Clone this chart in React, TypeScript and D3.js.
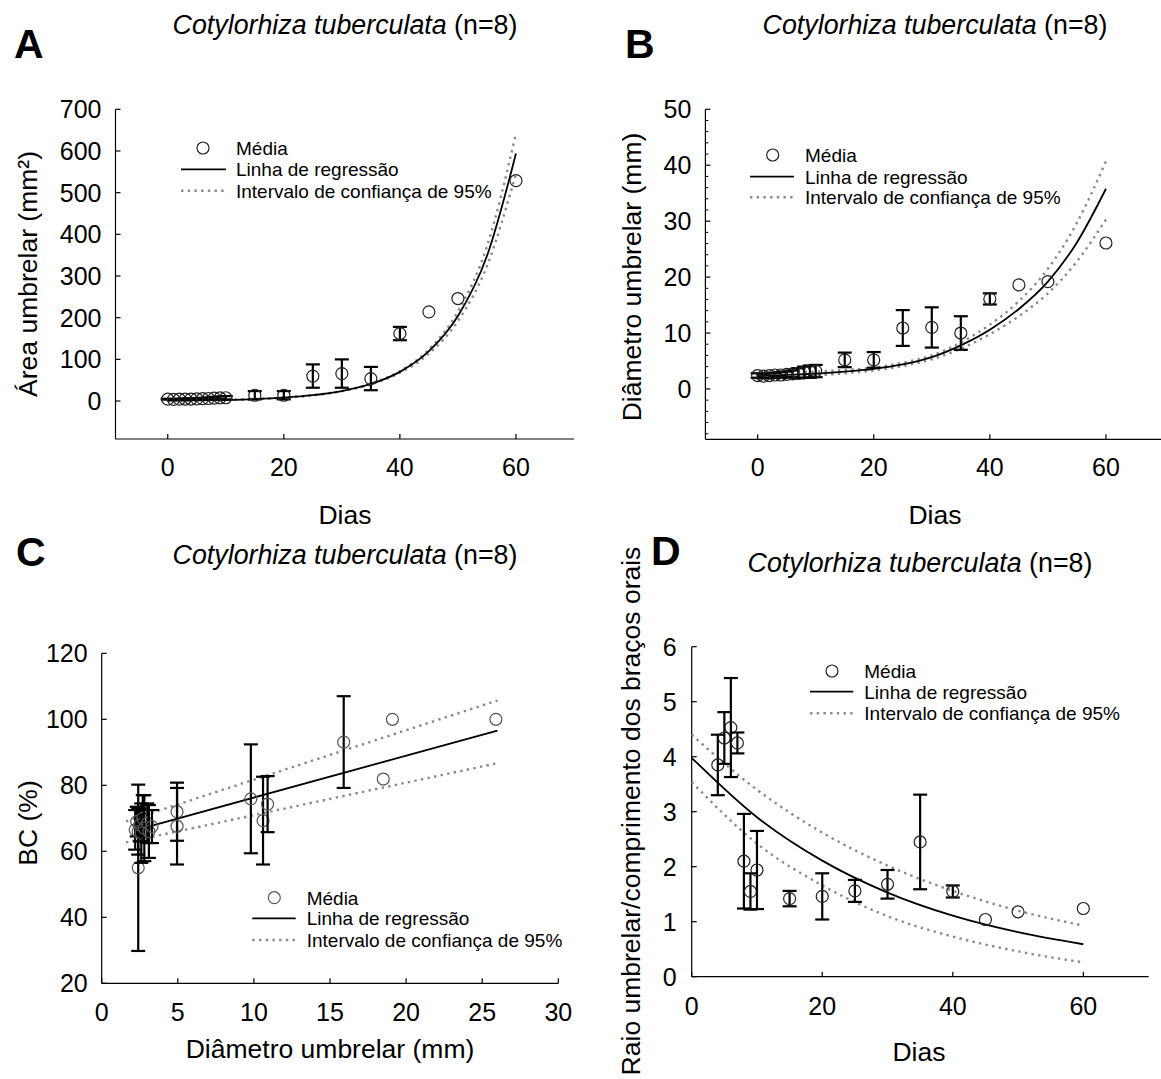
import React from "react";
import * as d3 from "d3";

const FONT = "'Liberation Sans', Arial, sans-serif";

// ---------- Panel A: área umbrelar vs dias ----------
const daysAB = [0, 1, 2, 3, 4, 5, 6, 7, 8, 9, 10, 15, 20, 25, 30, 35, 40, 45, 50, 60];
const areaMean = [4.5, 4.2, 4.5, 4.9, 4.9, 5.3, 5.7, 6.2, 7.1, 7.5, 8.0, 14, 14, 60, 66, 54, 162, 214, 246, 529];
const areaErr = [1, 1, 1, 1.5, 1.5, 2, 2, 2.5, 3, 3.5, 4, 10, 10, 28, 34, 28, 16, 0, 0, 0];
const regXA = [0, 5, 10, 15, 20, 25, 30, 35, 40, 45, 50, 55, 60];
const regA = [0.98, 1.66, 2.84, 4.85, 8.27, 14.1, 24.1, 41.1, 70.1, 119.6, 204, 348, 594];
const upA = [0.9, 1.56, 2.69, 4.65, 8.04, 13.9, 24.0, 41.6, 71.9, 124, 215, 371, 642];
const loA = [1.05, 1.77, 2.98, 5.02, 8.45, 14.2, 23.9, 40.3, 67.8, 114, 192, 324, 545];

// ---------- Panel B: diâmetro umbrelar vs dias ----------
const diamMean = [2.4, 2.3, 2.4, 2.5, 2.5, 2.6, 2.7, 2.8, 3.0, 3.1, 3.2, 5.2, 5.2, 10.9, 11.0, 10.0, 16.1, 18.6, 19.2, 26.1];
const diamErr = [0.4, 0.4, 0.4, 0.4, 0.5, 0.5, 0.6, 0.9, 1.0, 1.1, 1.1, 1.3, 1.4, 3.2, 3.6, 3.0, 1.0, 0, 0, 0];
const regXB = [0, 5, 10, 15, 20, 25, 30, 35, 40, 45, 50, 55, 60];
const regB = [2.3, 2.5, 2.75, 3.1, 3.6, 4.4, 5.7, 7.8, 10.6, 14.3, 19.2, 26.2, 35.8];
const upB = [2.8, 2.9, 3.1, 3.4, 3.8, 4.7, 6.0, 8.3, 11.5, 15.7, 21.5, 29.7, 40.7];
const loB = [1.6, 2.0, 2.4, 2.8, 3.3, 4.1, 5.3, 7.2, 9.8, 13.0, 17.1, 22.8, 30.3];

// ---------- Panel C: BC vs diâmetro ----------
const bcDiam = [2.4, 2.2, 2.3, 2.4, 2.5, 2.6, 2.7, 2.8, 3.0, 3.1, 3.3, 4.95, 4.95, 10.6, 10.9, 9.8, 15.9, 18.5, 19.1, 25.9];
const bcMean = [55.0, 66.5, 69.0, 66.0, 68.0, 65.5, 70.0, 67.0, 68.5, 66.0, 67.5, 72.0, 67.6, 69.3, 74.3, 75.9, 93.1, 81.9, 100, 100];
const bcErr = [25.2, 6, 4.5, 7, 5, 9, 7, 10, 6, 8, 5, 8.8, 11.6, 13.3, 8.5, 16.5, 13.9, 0, 0, 0];
const regXC = [2.3, 26];
const regC = [66.5, 96.6];
const ciXC = [1.6, 26];
const upC = [69.1, 105.7];
const loC = [62.7, 86.7];

// ---------- Panel D: raio/comprimento vs dias ----------
const daysD = [4, 5, 6, 7, 8, 9, 10, 15, 20, 25, 30, 35, 40, 45, 50, 60];
const ratioMean = [3.85, 4.34, 4.53, 4.25, 2.10, 1.55, 1.94, 1.42, 1.46, 1.56, 1.68, 2.45, 1.55, 1.04, 1.18, 1.24];
const ratioErr = [0.55, 0.47, 0.9, 0.19, 0.86, 0.33, 0.71, 0.14, 0.42, 0.2, 0.26, 0.86, 0.11, 0, 0, 0];
const regXD = [0, 10, 20, 30, 40, 50, 60];
const regD = [3.98, 2.9, 2.11, 1.53, 1.11, 0.81, 0.59];
const upD = [4.4, 3.4, 2.62, 2.02, 1.56, 1.2, 0.93];
const loD = [3.54, 2.42, 1.66, 1.1, 0.73, 0.46, 0.26];

const ticksX60 = [0, 20, 40, 60];
const ticksA = [0, 100, 200, 300, 400, 500, 600, 700];
const ticksB = [0, 10, 20, 30, 40, 50];
const minorB = [-8, -6, -4, -2, 2, 4, 6, 8, 12, 14, 16, 18, 22, 24, 26, 28, 32, 34, 36, 38, 42, 44, 46, 48];
const ticksCx = [0, 5, 10, 15, 20, 25, 30];
const ticksCy = [20, 40, 60, 80, 100, 120];
const ticksDy = [0, 1, 2, 3, 4, 5, 6];

const legendLabels = ["Média", "Linha de regressão", "Intervalo de confiança de 95%"];
const speciesName = "Cotylorhiza tuberculata";
const sampleLabel = " (n=8)";

type Cfg = {
  xDomain: [number, number];
  xRange: [number, number];
  yDomain: [number, number];
  yRange: [number, number];
  xTicks: number[];
  yTicks: number[];
  yMinor?: number[];
  px: number[];
  py: number[];
  pe: number[];
  regX: number[];
  reg: number[];
  ciX: number[];
  up: number[];
  lo: number[];
  circleColor: string;
  legend: { cx: number; l1: number; l2: number; tx: number; rows: number[] };
  title: { x: number; y: number };
  letter: { t: string; x: number; y: number };
  xLabel: { t: string; x: number; y: number };
  yLabel: { t: React.ReactNode; x: number; y: number };
  xTickY: number;
  yTickGap: number;
  clipRight?: number;
};

function Panel({ c }: { c: Cfg }) {
  const x = d3.scaleLinear().domain(c.xDomain).range(c.xRange);
  const y = d3.scaleLinear().domain(c.yDomain).range(c.yRange);
  const line = d3
    .line<[number, number]>()
    .x((d) => x(d[0]))
    .y((d) => y(d[1]))
    .curve(d3.curveMonotoneX);
  const regPts = c.regX.map((v, i) => [v, c.reg[i]] as [number, number]);
  const upPts = c.ciX.map((v, i) => [v, c.up[i]] as [number, number]);
  const loPts = c.ciX.map((v, i) => [v, c.lo[i]] as [number, number]);
  const x0 = c.xRange[0];
  const yb = c.yRange[0];
  const yt = c.yRange[1];
  const xr = c.clipRight ?? c.xRange[1];
  const dotted = { stroke: "#8a8a8a", strokeWidth: 2.4, strokeDasharray: "2.4 4.3", fill: "none" };
  const cap = 7;
  return (
    <g>
      {/* axes */}
      <line x1={x0} y1={yt} x2={x0} y2={yb} stroke="#000" strokeWidth={1.2} />
      <line x1={x0} y1={yb} x2={xr} y2={yb} stroke="#000" strokeWidth={1.2} />
      {c.yTicks.map((t) => (
        <g key={"yt" + t}>
          <line x1={x0} x2={x0 + 5} y1={y(t)} y2={y(t)} stroke="#000" strokeWidth={1.2} />
          <text x={x0 - c.yTickGap} y={y(t) + 9} textAnchor="end" fontSize={25} fontFamily={FONT}>
            {t}
          </text>
        </g>
      ))}
      {(c.yMinor || []).map((t) => (
        <line key={"ym" + t} x1={x0} x2={x0 + 3} y1={y(t)} y2={y(t)} stroke="#000" strokeWidth={1} />
      ))}
      {c.xTicks.map((t) => (
        <g key={"xt" + t}>
          <line x1={x(t)} x2={x(t)} y1={yb} y2={yb - 5} stroke="#000" strokeWidth={1.2} />
          <text x={x(t)} y={c.xTickY} textAnchor="middle" fontSize={25} fontFamily={FONT}>
            {t}
          </text>
        </g>
      ))}
      {/* CI and regression */}
      <path d={line(upPts) || ""} {...dotted} />
      <path d={line(loPts) || ""} {...dotted} />
      <path d={line(regPts) || ""} stroke="#000" strokeWidth={1.8} fill="none" />
      {/* points */}
      {c.px.map((v, i) => {
        const cx = x(v);
        const e = c.pe[i];
        return (
          <g key={"p" + i}>
            {e > 0 && (
              <g stroke="#000" strokeWidth={2.2}>
                <line x1={cx} x2={cx} y1={y(c.py[i] + e)} y2={y(c.py[i] - e)} />
                <line x1={cx - cap} x2={cx + cap} y1={y(c.py[i] + e)} y2={y(c.py[i] + e)} />
                <line x1={cx - cap} x2={cx + cap} y1={y(c.py[i] - e)} y2={y(c.py[i] - e)} />
              </g>
            )}
            <circle cx={cx} cy={y(c.py[i])} r={6} fill="none" stroke={c.circleColor} strokeWidth={1.2} />
          </g>
        );
      })}
      {/* legend */}
      <g fontFamily={FONT} fontSize={19}>
        <circle cx={c.legend.cx} cy={c.legend.rows[0]} r={6} fill="none" stroke={c.circleColor} strokeWidth={1.2} />
        <line x1={c.legend.l1} x2={c.legend.l2} y1={c.legend.rows[1]} y2={c.legend.rows[1]} stroke="#000" strokeWidth={1.8} />
        <line x1={c.legend.l1} x2={c.legend.l2} y1={c.legend.rows[2]} y2={c.legend.rows[2]} {...dotted} />
        {legendLabels.map((l, i) => (
          <text key={l} x={c.legend.tx} y={c.legend.rows[i] + 6.8}>
            {l}
          </text>
        ))}
      </g>
      {/* title */}
      <text x={c.title.x} y={c.title.y} textAnchor="middle" fontSize={26.8} fontFamily={FONT}>
        <tspan fontStyle="italic">{speciesName}</tspan>
        {sampleLabel}
      </text>
      <text x={c.letter.x} y={c.letter.y} fontSize={41} fontWeight="bold" fontFamily={FONT}>
        {c.letter.t}
      </text>
      <text x={c.xLabel.x} y={c.xLabel.y} textAnchor="middle" fontSize={26.5} fontFamily={FONT}>
        {c.xLabel.t}
      </text>
      <text
        transform={`translate(${c.yLabel.x},${c.yLabel.y}) rotate(-90)`}
        textAnchor="middle"
        fontSize={26.5}
        fontFamily={FONT}
      >
        {c.yLabel.t}
      </text>
    </g>
  );
}

const panelA: Cfg = {
  xDomain: [-9, 70],
  xRange: [115.5, 574],
  yDomain: [-91, 700],
  yRange: [439, 109.3],
  xTicks: ticksX60,
  yTicks: ticksA,
  px: daysAB,
  py: areaMean,
  pe: areaErr,
  regX: regXA,
  reg: regA,
  ciX: regXA,
  up: upA,
  lo: loA,
  circleColor: "#222",
  legend: { cx: 203, l1: 181, l2: 226, tx: 236, rows: [148, 169.3, 190.7] },
  title: { x: 345, y: 34 },
  letter: { t: "A", x: 14, y: 58 },
  xLabel: { t: "Dias", x: 345, y: 524 },
  yLabel: { t: "Área umbrelar (mm²)", x: 37, y: 274 },
  xTickY: 476,
  yTickGap: 14,
};

const panelB: Cfg = {
  xDomain: [-9, 70],
  xRange: [705.4, 1164],
  yDomain: [-9, 50],
  yRange: [439.3, 109.3],
  xTicks: ticksX60,
  yTicks: ticksB,
  yMinor: minorB,
  px: daysAB,
  py: diamMean,
  pe: diamErr,
  regX: regXB,
  reg: regB,
  ciX: regXB,
  up: upB,
  lo: loB,
  circleColor: "#222",
  legend: { cx: 772.7, l1: 750, l2: 794, tx: 805, rows: [155, 176.7, 197.3] },
  title: { x: 935, y: 34 },
  letter: { t: "B", x: 625, y: 58 },
  xLabel: { t: "Dias", x: 935, y: 524 },
  yLabel: { t: "Diâmetro umbrelar (mm)", x: 641, y: 277 },
  xTickY: 476,
  yTickGap: 14,
  clipRight: 1161,
};

const panelC: Cfg = {
  xDomain: [0, 30],
  xRange: [101.7, 558.3],
  yDomain: [20, 120],
  yRange: [983.3, 653.3],
  xTicks: ticksCx,
  yTicks: ticksCy,
  px: bcDiam,
  py: bcMean,
  pe: bcErr,
  regX: regXC,
  reg: regC,
  ciX: ciXC,
  up: upC,
  lo: loC,
  circleColor: "#555",
  legend: { cx: 274.3, l1: 252.3, l2: 295.7, tx: 306.7, rows: [897.7, 918.3, 940] },
  title: { x: 345, y: 564 },
  letter: { t: "C", x: 16, y: 566 },
  xLabel: { t: "Diâmetro umbrelar (mm)", x: 330, y: 1058 },
  yLabel: { t: "BC (%)", x: 37, y: 823 },
  xTickY: 1021,
  yTickGap: 14,
};

const panelD: Cfg = {
  xDomain: [0, 70],
  xRange: [691.7, 1148.6],
  yDomain: [0, 6],
  yRange: [976.7, 646.7],
  xTicks: ticksX60,
  yTicks: ticksDy,
  px: daysD,
  py: ratioMean,
  pe: ratioErr,
  regX: regXD,
  reg: regD,
  ciX: regXD,
  up: upD,
  lo: loD,
  circleColor: "#222",
  legend: { cx: 832, l1: 810, l2: 853.3, tx: 864.3, rows: [671, 691.7, 713.3] },
  title: { x: 920, y: 572 },
  letter: { t: "D", x: 651, y: 565 },
  xLabel: { t: "Dias", x: 919, y: 1061 },
  yLabel: { t: "Raio umbrelar/comprimento dos braços orais", x: 640, y: 811 },
  xTickY: 1015,
  yTickGap: 15,
};

export default function App() {
  return (
    <svg
      width={1161}
      height={1079}
      style={{ position: "absolute", left: 0, top: 0, background: "#fff" }}
    >
      <rect width={1161} height={1079} fill="#fff" />
      <Panel c={panelA} />
      <Panel c={panelB} />
      <Panel c={panelC} />
      <Panel c={panelD} />
    </svg>
  );
}
